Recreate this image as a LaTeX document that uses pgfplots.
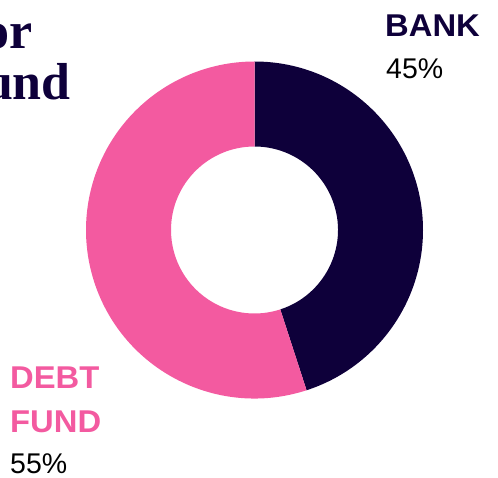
\documentclass[border=0pt]{standalone}
\usepackage{fontspec}
\setmainfont{Liberation Sans}
\newfontfamily\titlefont{Liberation Serif}
\newfontfamily\labelfont{Liberation Sans}[FakeStretch=1.04]
\usepackage{pgfplots}
\usepackage{pgfplotstable}
\pgfplotsset{compat=1.18}
\usetikzlibrary{calc}
\definecolor{navy}{HTML}{0E003A}
\definecolor{pinkc}{HTML}{F35AA0}
\pgfplotstableread{
label value
BANK 45
DEBT 55
}\shares
\pgfplotstablegetelem{0}{value}\of\shares
\pgfmathsetmacro\angA{\pgfplotsretval*3.6}
\pgfplotstablegetelem{1}{value}\of\shares
\pgfmathsetmacro\angB{\pgfplotsretval*3.6}
\pgfmathsetmacro\endA{90-\angA}
\pgfmathsetmacro\endB{90-\angA-\angB}
\begin{document}%
\begin{tikzpicture}
\begin{scope}
\clip (0,0) rectangle (498pt,477pt);
\begin{axis}[x=1pt,y=1pt,xmin=0,xmax=498,ymin=0,ymax=477,hide axis,
  anchor=south west,at={(0,0)},clip=false,scale only axis]
\coordinate (c) at (axis cs:254.5,247);
\fill[navy] ($(c)+(90:168.5pt)$) arc[start angle=90,end angle=\endA,radius=168.5pt]
  -- ($(c)+(\endA:83.5pt)$) arc[start angle=\endA,end angle=90,radius=83.5pt] -- cycle;
\fill[pinkc] ($(c)+(\endA:168.5pt)$) arc[start angle=\endA,end angle=\endB,radius=168.5pt]
  -- ($(c)+(\endB:83.5pt)$) arc[start angle=\endB,end angle=\endA,radius=83.5pt] -- cycle;
\node[anchor=base east,inner sep=0,text=navy,font=\titlefont\bfseries\fontsize{52}{60}\selectfont] at (axis cs:33,428) {Bank or};
\node[anchor=base east,inner sep=0,text=navy,font=\titlefont\bfseries\fontsize{52}{60}\selectfont] at (axis cs:71,377) {debt fund};
\node[anchor=base west,inner sep=0,text=navy,font=\labelfont\bfseries\fontsize{31.5}{36}\selectfont] at (axis cs:385,440) {BANK};
\node[anchor=base west,inner sep=0,text=black,font=\fontsize{28.5}{34}\selectfont] at (axis cs:386,398) {45\%};
\node[anchor=base west,inner sep=0,text=pinkc,font=\labelfont\bfseries\fontsize{31.5}{36}\selectfont] at (axis cs:10,89) {DEBT};
\node[anchor=base west,inner sep=0,text=pinkc,font=\labelfont\bfseries\fontsize{31.5}{36}\selectfont] at (axis cs:10,45) {FUND};
\node[anchor=base west,inner sep=0,text=black,font=\fontsize{28.5}{34}\selectfont] at (axis cs:10,4) {55\%};
\end{axis}
\end{scope}
\pgfresetboundingbox
\useasboundingbox (0,0) rectangle (498pt,477pt);
\end{tikzpicture}%
\end{document}
